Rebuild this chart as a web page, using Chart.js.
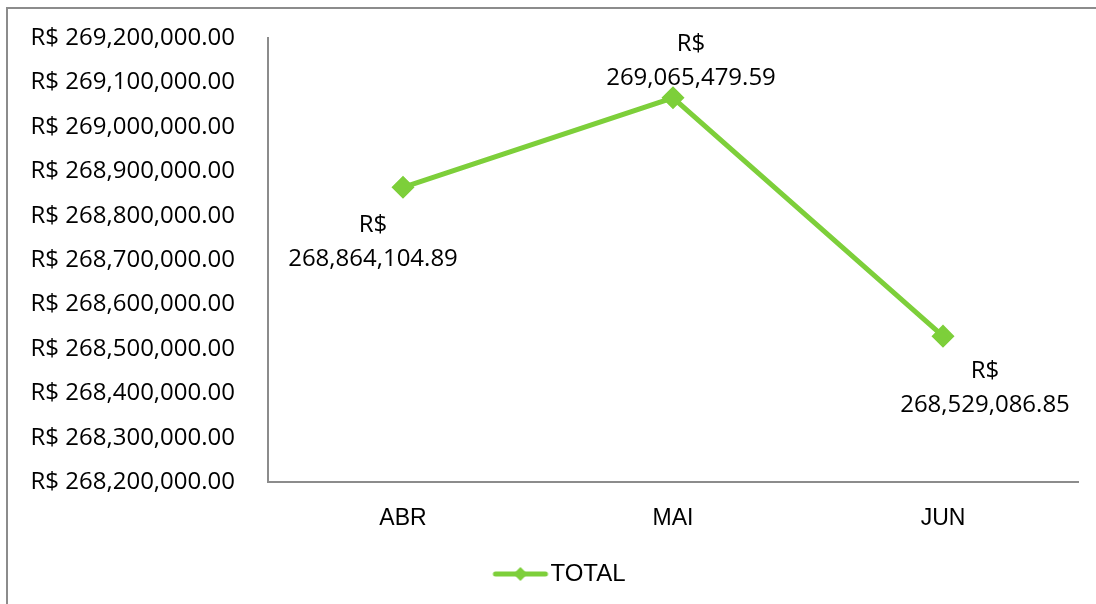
<!DOCTYPE html>
<html><head><meta charset="utf-8">
<script src="https://cdn.jsdelivr.net/npm/chart.js@4/dist/chart.umd.min.js"></script>
<style>
html,body{margin:0;padding:0;background:#fff;overflow:hidden}
#wrap{position:relative;width:1096px;height:604px}
#frame{position:absolute;left:6px;top:7px;width:1200px;height:700px;border-left:2px solid #8c8c8c;border-top:2px solid #8c8c8c}
canvas{position:absolute;left:0;top:0}
</style></head>
<body><div id="wrap"><div id="frame"></div><canvas id="c" width="1096" height="604"></canvas></div>
<script>
const categories = ['ABR','MAI','JUN'];
const totalValues = [268864104.89, 269065479.59, 268529086.85];
const seriesName = 'TOTAL';
const yMin = 268200000, yMax = 269200000, yStep = 100000;

const green = '#7dcf3a';
const fmt = v => v.toLocaleString('en-US',{minimumFractionDigits:2,maximumFractionDigits:2});
const labelOffsets = [[-30,38],[18,-54],[42,35]];

// legend marker: line with diamond (visible part on the right side of the image)
const mk = document.createElement('canvas');
mk.width = 112; mk.height = 16;
(function(){const g=mk.getContext('2d');g.strokeStyle=green;g.lineWidth=5;g.lineCap='round';
g.beginPath();g.moveTo(56,8);g.lineTo(106,8);g.stroke();
g.fillStyle=green;g.beginPath();g.moveTo(81,1);g.lineTo(88,8);g.lineTo(81,15);g.lineTo(74,8);g.closePath();g.fill();})();

const dataLabels = {
  id:'dataLabels',
  afterDatasetsDraw(chart){
    const ctx=chart.ctx, meta=chart.getDatasetMeta(0);
    ctx.save();
    ctx.font='24px "Open Sans"';ctx.fillStyle='#000';ctx.textAlign='center';ctx.textBaseline='middle';
    meta.data.forEach((pt,i)=>{
      const [dx,dy]=labelOffsets[i];
      ctx.fillText('R$',pt.x+dx,pt.y+dy);
      ctx.fillText(fmt(chart.data.datasets[0].data[i]),pt.x+dx,pt.y+dy+34);
    });
    ctx.restore();
  }
};

new Chart(document.getElementById('c'),{
  type:'line',
  data:{labels:categories,datasets:[{label:seriesName,data:totalValues,borderColor:green,backgroundColor:green,
    borderWidth:5,pointStyle:'rectRot',pointRadius:8,pointHoverRadius:8,pointBackgroundColor:green,pointBorderColor:green,tension:0}]},
  options:{
    responsive:false,animation:false,
    layout:{padding:{top:38,right:18,bottom:8,left:0}},
    scales:{
      x:{offset:true,grid:{display:false,drawTicks:false},border:{color:'#8c8c8c',width:2},
        ticks:{color:'#000',font:{family:'"Liberation Sans"',size:23},padding:22}},
      y:{min:yMin,max:yMax,grid:{display:false,drawTicks:false},border:{color:'#8c8c8c',width:2},
        ticks:{stepSize:yStep,color:'#000',font:{family:'"Open Sans"',size:24},padding:33,callback:v=>'R$ '+fmt(v)},
        afterFit(s){s.width=268;s.paddingTop=0;s.paddingBottom=0;}}
    },
    plugins:{
      legend:{position:'bottom',labels:{usePointStyle:true,pointStyle:mk,pointStyleWidth:86,boxHeight:16,padding:8,color:'#000',font:{family:'"Liberation Sans"',size:24},
        generateLabels(chart){return [{text:seriesName,pointStyle:mk,fillStyle:green,strokeStyle:green,lineWidth:0,datasetIndex:0,fontColor:'#000'}];}}},
      tooltip:{enabled:false}
    }
  },
  plugins:[dataLabels]
});
</script></body></html>
